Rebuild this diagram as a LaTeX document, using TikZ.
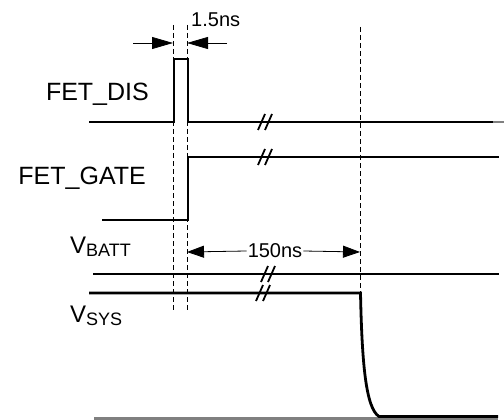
\documentclass[tikz,border=0pt]{standalone}
\usepackage{fontspec}
\setmainfont{Liberation Sans}
\usetikzlibrary{arrows.meta,calc}
\tikzset{
  sig/.style={line width=2.8pt, line join=miter},
  guide/.style={line width=0.8pt, dash pattern=on 5pt off 3pt},
  brk/.style={line width=1.8pt},
  bigarrow/.style={line width=0.8pt, -{Triangle[length=21pt,width=12pt]}},
  midarrow/.style={line width=0.8pt, -{Triangle[length=17pt,width=12pt]}},
  lab/.style={inner sep=0pt, font=\fontsize{25}{28}\selectfont},
  vlab/.style={inner sep=0pt, font=\fontsize{24}{28}\selectfont},
  tim/.style={inner sep=1pt, font=\fontsize{20}{24}\selectfont},
}
\newcommand{\breakmark}[1]{%
  \draw[brk] ($(#1)+(-6,8)$) -- ($(#1)+(1,-8)$);
  \draw[brk] ($(#1)+(1,8)$) -- ($(#1)+(8,-8)$);}
\newcommand{\subtxt}[1]{\raisebox{-0.25ex}{\fontsize{18}{20}\selectfont #1}}
\begin{document}
\begin{tikzpicture}[x=1pt,y=-1pt]
\useasboundingbox (0,0) rectangle (504,420);

% labels
\node[lab, anchor=base east] (ldis) at (149,100) {FET\_DIS};
\node[lab, anchor=base east] (lgate) at (146,184) {FET\_GATE};
\node[vlab, anchor=base west] (lbatt) at (70,253) {V\subtxt{BATT}};
\node[vlab, anchor=base west] (lsys) at (70,322) {V\subtxt{SYS}};

% guide lines
\coordinate (g1t) at (173,25); \coordinate (g1b) at (173,312);
\coordinate (g2t) at (187,25); \coordinate (g2b) at (187,312);
\coordinate (g3t) at (360,27); \coordinate (g3b) at (360,293);
\draw[guide] (g1t) -- (g1b);
\draw[guide] (g2t) -- (g2b);
\draw[guide] (g3t) -- (g3b);

% 1.5ns arrows
\coordinate (a1s) at (133,43); \coordinate (a1e) at (173,43);
\coordinate (a2s) at (227,43); \coordinate (a2e) at (187,43);
\draw[bigarrow] (a1s) -- (a1e);
\draw[bigarrow] (a2s) -- (a2e);
\node[tim, anchor=base west, inner sep=0pt] (t15) at (191,27) {1.5ns};

% 150ns
\node[tim, fill=white] (t150) at (275,251) {150ns};
\coordinate (b1) at (187,252); \coordinate (b2) at (360,252);
\draw[midarrow] (t150.west) -- (b1);
\draw[midarrow] (t150.east) -- (b2);

% FET_DIS
\coordinate (d0) at (89,122);
\coordinate (d1) at (174,122);
\coordinate (d2) at (174,59);
\coordinate (d3) at (188,59);
\coordinate (d4) at (188,122);
\coordinate (d5) at (493,122);
\coordinate (d6) at (504,122);
\draw[sig] (d0) -- (d1) -- (d2) -- (d3) -- (d4) -- (d5);
\draw[gray, line width=1.2pt] (d5) -- (d6);
\breakmark{264,122}

% FET_GATE
\coordinate (f0) at (102,220);
\coordinate (f1) at (188,220);
\coordinate (f2) at (188,157);
\coordinate (f3) at (499,157);
\draw[sig] (f0) -- (f1) -- (f2) -- (f3);
\breakmark{264,157}

% VBATT
\coordinate (v0) at (93,274);
\coordinate (v1) at (499,274);
\draw[sig] (v0) -- (v1);
\breakmark{267,274}

% ground reference
\coordinate (z0) at (94,418.5);
\coordinate (z1) at (498,418.5);
\draw[gray, line width=2.6pt] (z0) -- (z1);

% VSYS
\coordinate (s0) at (89,293);
\coordinate (s1) at (360.5,293);
\coordinate (s2) at (379,416.5);
\coordinate (s3) at (498,416.5);
\draw[sig] (s0) -- (s1) .. controls (362,365) and (366,408) .. (s2) -- (s3);
\breakmark{262,293}
\end{tikzpicture}
\end{document}
